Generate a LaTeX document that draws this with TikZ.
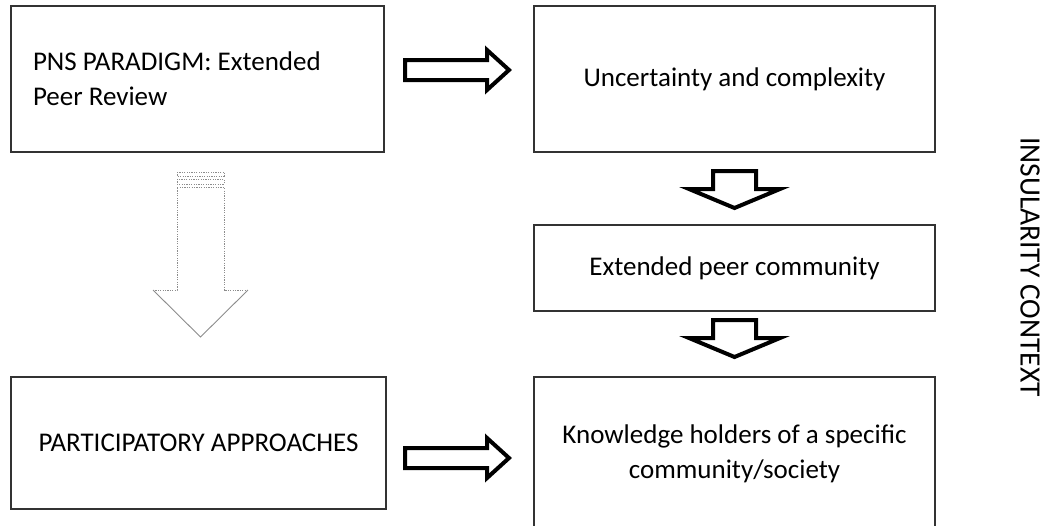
\documentclass[tikz,border=0pt]{standalone}
\usepackage{fontspec}
\setmainfont{Carlito}
\begin{document}
\begin{tikzpicture}[x=1pt,y=-1pt,
  box/.style={draw=black!80, line width=1.3pt, inner sep=0pt,
    font=\fontsize{27}{35}\selectfont},
  blockarrow/.style={draw=black, line width=4pt, fill=white, line join=miter},
  stripeline/.style={draw=black!45, line width=0.9pt, dash pattern=on 1.2pt off 1.2pt},
  headline/.style={draw=black!45, line width=0.9pt}]
\useasboundingbox (0,0) rectangle (1048,525);
\begin{scope}
\clip (0,0) rectangle (1048,525);

% boxes
\node[box, minimum width=373pt, minimum height=146pt, text width=329pt, align=flush left]
  (pns) at (197.5,79) {PNS PARADIGM: Extended\\Peer Review};
\node[box, minimum width=401pt, minimum height=146pt]
  (unc) at (734.5,79) {Uncertainty and complexity};
\node[box, minimum width=401pt, minimum height=86pt]
  (epc) at (734.5,268) {Extended peer community};
\node[box, minimum width=375pt, minimum height=132pt]
  (par) at (198.5,443) {PARTICIPATORY APPROACHES};
\node[box, minimum width=401pt, minimum height=154pt, text width=380pt, align=flush center]
  (kno) at (734.5,454) {Knowledge holders of a specific\\community/society};

% side label
\node[rotate=-90, inner sep=0pt, font=\fontsize{29.5}{35}\selectfont]
  (ctx) at (1030,267) {INSULARITY CONTEXT};

% block arrows pointing right
\draw[blockarrow] (405,60) -- (487,60) -- (487,50) -- (509,70) -- (487,90)
  -- (487,80) -- (405,80) -- cycle;
\draw[blockarrow] (405,448) -- (487,448) -- (487,438) -- (509,458) -- (487,478)
  -- (487,468) -- (405,468) -- cycle;

% block arrows pointing down
\draw[blockarrow] (713,171) -- (756,171) -- (756,189) -- (780,189) -- (734.5,208)
  -- (689,189) -- (713,189) -- cycle;
\draw[blockarrow] (713,320) -- (756,320) -- (756,338) -- (780,338) -- (734.5,357)
  -- (689,338) -- (713,338) -- cycle;

% striped arrow pointing down
\draw[stripeline] (177,172) rectangle (224,176);
\draw[stripeline] (177,179) rectangle (224,184);
\draw[stripeline] (153,290) -- (177,290) -- (177,187) -- (224,187) -- (224,290) -- (248,290);
\draw[headline] (153,290) -- (200.5,337) -- (248,290);
\end{scope}
\end{tikzpicture}
\end{document}
